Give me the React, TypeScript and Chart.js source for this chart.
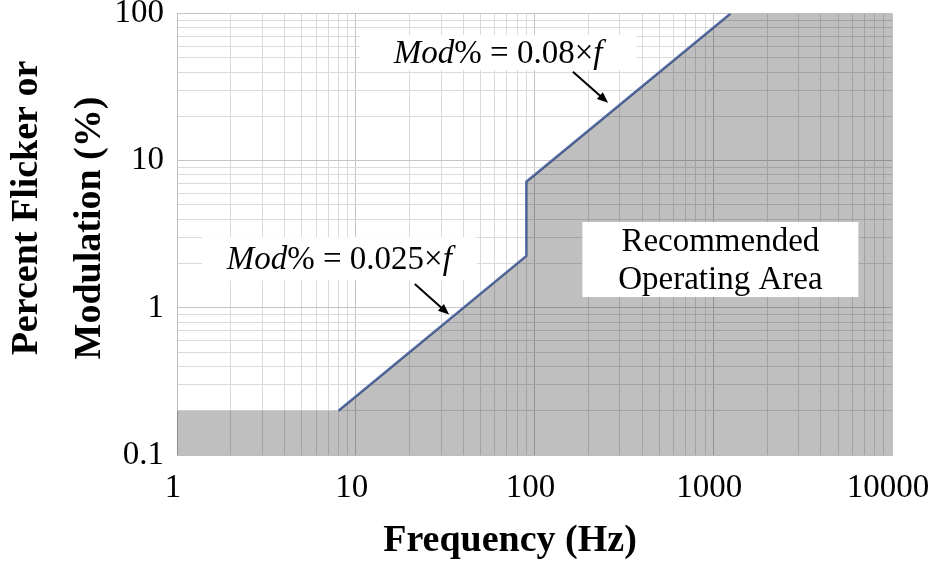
import React, { useEffect, useRef } from 'react';
import { Chart, registerables } from 'chart.js';

Chart.register(...registerables);

// ---- Data ----
const X_TICKS = [1, 2, 3, 4, 5, 6, 7, 8, 9, 10, 20, 30, 40, 50, 60, 70, 80, 90, 100, 200, 300, 400, 500, 600, 700, 800, 900, 1000, 2000, 3000, 4000, 5000, 6000, 7000, 8000, 9000, 10000];
const Y_TICKS = [0.1, 0.2, 0.3, 0.4, 0.5, 0.6, 0.7, 0.8, 0.9, 1, 2, 3, 4, 5, 6, 7, 8, 9, 10, 20, 30, 40, 50, 60, 70, 80, 90, 100];
const X_LABELS = [1, 10, 100, 1000, 10000];
const Y_LABELS = [0.1, 1, 10, 100];

// limit curve (Hz, %)
const LIMIT_FREQ = [8, 90, 90, 1250];
const LIMIT_MOD = [0.2, 2.25, 7.2, 100];

// recommended operating area boundary (Hz, %)
const AREA_FREQ = [1, 8, 90, 90, 1250, 10000];
const AREA_MOD = [0.2, 0.2, 2.25, 7.2, 100, 100];

// annotations (data coordinates)
const NOTE_HIGH = { x: 62.6, y: 54.3, coef: '0.08' };
const NOTE_LOW = { x: 8.09, y: 2.16, coef: '0.025' };
const AREA_NOTE = { x: 1096, y: 2.13, lines: ['Recommended', 'Operating Area'] };
const ARROW_HIGH = { fx: 164, fy: 40.2, tx: 258, ty: 24.7 };
const ARROW_LOW = { fx: 21.4, fy: 1.45, tx: 33.3, ty: 0.9 };

const X_TITLE = 'Frequency (Hz)';
const Y_TITLE = ['Percent Flicker or', 'Modulation (%)'];

const SERIF = "'Liberation Serif', 'Times New Roman', serif";

const isIn = (arr: number[], v: number) => arr.some((a) => Math.abs(a - v) / a < 1e-6);

const overlayPlugin = {
  id: 'overlay',
  afterDatasetsDraw(chart: any) {
    const { ctx, scales } = chart;
    const xs = scales.x;
    const ys = scales.y;
    ctx.save();

    const drawFormula = (note: { x: number; y: number; coef: string }, w: number, h: number) => {
      const cx = xs.getPixelForValue(note.x);
      const cy = ys.getPixelForValue(note.y);
      ctx.fillStyle = '#ffffff';
      ctx.fillRect(cx - w / 2, cy - h / 2, w, h);
      const parts = [
        { t: 'Mod', it: true },
        { t: '% = ' + note.coef + '\u00d7', it: false },
        { t: 'f', it: true },
      ];
      let total = 0;
      const widths: number[] = [];
      parts.forEach((p) => {
        ctx.font = (p.it ? 'italic ' : '') + '33px ' + SERIF;
        const mw = ctx.measureText(p.t).width;
        widths.push(mw);
        total += mw;
      });
      let x = cx - total / 2;
      ctx.fillStyle = '#000000';
      ctx.textAlign = 'left';
      ctx.textBaseline = 'alphabetic';
      parts.forEach((p, i) => {
        ctx.font = (p.it ? 'italic ' : '') + '33px ' + SERIF;
        ctx.fillText(p.t, x, cy + 10);
        x += widths[i];
      });
    };

    const drawArrow = (a: { fx: number; fy: number; tx: number; ty: number }) => {
      const x1 = xs.getPixelForValue(a.fx);
      const y1 = ys.getPixelForValue(a.fy);
      const x2 = xs.getPixelForValue(a.tx);
      const y2 = ys.getPixelForValue(a.ty);
      const ang = Math.atan2(y2 - y1, x2 - x1);
      const len = 11;
      const hw = 4.5;
      ctx.strokeStyle = '#000000';
      ctx.lineWidth = 2;
      ctx.beginPath();
      ctx.moveTo(x1, y1);
      ctx.lineTo(x2 - Math.cos(ang) * len * 0.8, y2 - Math.sin(ang) * len * 0.8);
      ctx.stroke();
      ctx.fillStyle = '#000000';
      ctx.beginPath();
      ctx.moveTo(x2, y2);
      ctx.lineTo(x2 - Math.cos(ang) * len + Math.sin(ang) * hw, y2 - Math.sin(ang) * len - Math.cos(ang) * hw);
      ctx.lineTo(x2 - Math.cos(ang) * len - Math.sin(ang) * hw, y2 - Math.sin(ang) * len + Math.cos(ang) * hw);
      ctx.closePath();
      ctx.fill();
    };

    drawFormula(NOTE_HIGH, 277, 35);
    drawFormula(NOTE_LOW, 275, 43);
    drawArrow(ARROW_HIGH);
    drawArrow(ARROW_LOW);

    // recommended area box
    {
      const cx = xs.getPixelForValue(AREA_NOTE.x);
      const cy = ys.getPixelForValue(AREA_NOTE.y);
      const w = 276;
      const h = 75;
      ctx.fillStyle = '#ffffff';
      ctx.fillRect(cx - w / 2, cy - h / 2, w, h);
      ctx.fillStyle = '#000000';
      ctx.font = '33px ' + SERIF;
      ctx.textAlign = 'center';
      ctx.textBaseline = 'alphabetic';
      ctx.fillText(AREA_NOTE.lines[0], cx, cy - 9);
      ctx.fillText(AREA_NOTE.lines[1], cx, cy + 29);
    }

    // axis titles
    ctx.fillStyle = '#000000';
    ctx.font = 'bold 38px ' + SERIF;
    ctx.textAlign = 'center';
    ctx.textBaseline = 'alphabetic';
    ctx.fillText(X_TITLE, 510, 551);

    const yCenters = [{ x: 37, y: 208 }, { x: 100, y: 228 }];
    Y_TITLE.forEach((line, i) => {
      ctx.save();
      ctx.translate(yCenters[i].x, yCenters[i].y);
      ctx.rotate(-Math.PI / 2);
      ctx.fillText(line, 0, 0);
      ctx.restore();
    });

    ctx.restore();
  },
};

export default function App() {
  const canvasRef = useRef<HTMLCanvasElement | null>(null);

  useEffect(() => {
    if (!canvasRef.current) return;
    const area = AREA_FREQ.map((f, i) => ({ x: f, y: AREA_MOD[i] }));
    const limit = LIMIT_FREQ.map((f, i) => ({ x: f, y: LIMIT_MOD[i] }));

    const chart = new Chart(canvasRef.current, {
      type: 'line',
      data: {
        datasets: [
          {
            data: area,
            fill: 'start',
            backgroundColor: 'rgba(0,0,0,0.25)',
            borderWidth: 0,
            borderColor: 'rgba(0,0,0,0)',
            pointRadius: 0,
            tension: 0,
          },
          {
            data: limit,
            fill: false,
            borderColor: '#5b74ae',
            borderWidth: 2.5,
            pointRadius: 0,
            tension: 0,
          },
        ],
      },
      options: {
        animation: false,
        responsive: false,
        devicePixelRatio: 1,
        layout: { padding: { top: 13.5, left: 0, right: 38, bottom: 0 } },
        plugins: {
          legend: { display: false },
          tooltip: { enabled: false },
        },
        scales: {
          x: {
            type: 'logarithmic',
            min: 1,
            max: 10000,
            afterBuildTicks: (s: any) => {
              s.ticks = X_TICKS.map((v) => ({ value: v }));
            },
            afterFit: (s: any) => {
              s.height = 107;
              s.paddingLeft = 0;
              s.paddingRight = 0;
            },
            ticks: {
              autoSkip: false,
              maxRotation: 0,
              minRotation: 0,
              padding: 17,
              labelOffset: -4,
              color: '#000000',
              font: { family: SERIF, size: 33, lineHeight: 1.0 },
              callback: (v: any) => (isIn(X_LABELS, Number(v)) ? String(v) : ''),
            },
            grid: {
              drawTicks: false,
              color: (c: any) => (isIn(X_LABELS, c.tick?.value) ? '#c4c4c4' : '#dadada'),
            },
            border: { display: true, color: '#bdbdbd' },
          },
          y: {
            type: 'logarithmic',
            min: 0.1,
            max: 100,
            afterBuildTicks: (s: any) => {
              s.ticks = Y_TICKS.map((v) => ({ value: v }));
            },
            afterFit: (s: any) => {
              s.width = 177;
              s.paddingTop = 0;
              s.paddingBottom = 0;
            },
            ticks: {
              autoSkip: false,
              padding: 13,
              color: '#000000',
              font: { family: SERIF, size: 33, lineHeight: 1.0 },
              callback: (v: any) => (isIn(Y_LABELS, Number(v)) ? String(v) : ''),
            },
            grid: {
              drawTicks: false,
              color: (c: any) => (isIn(Y_LABELS, c.tick?.value) ? '#c4c4c4' : '#dadada'),
            },
            border: { display: true, color: '#bdbdbd' },
          },
        },
      },
      plugins: [overlayPlugin],
    } as any);

    return () => chart.destroy();
  }, []);

  return (
    <div style={{ position: 'fixed', left: 0, top: 0, width: 930, height: 562, background: '#ffffff' }}>
      <canvas ref={canvasRef} width={930} height={562} />
    </div>
  );
}
